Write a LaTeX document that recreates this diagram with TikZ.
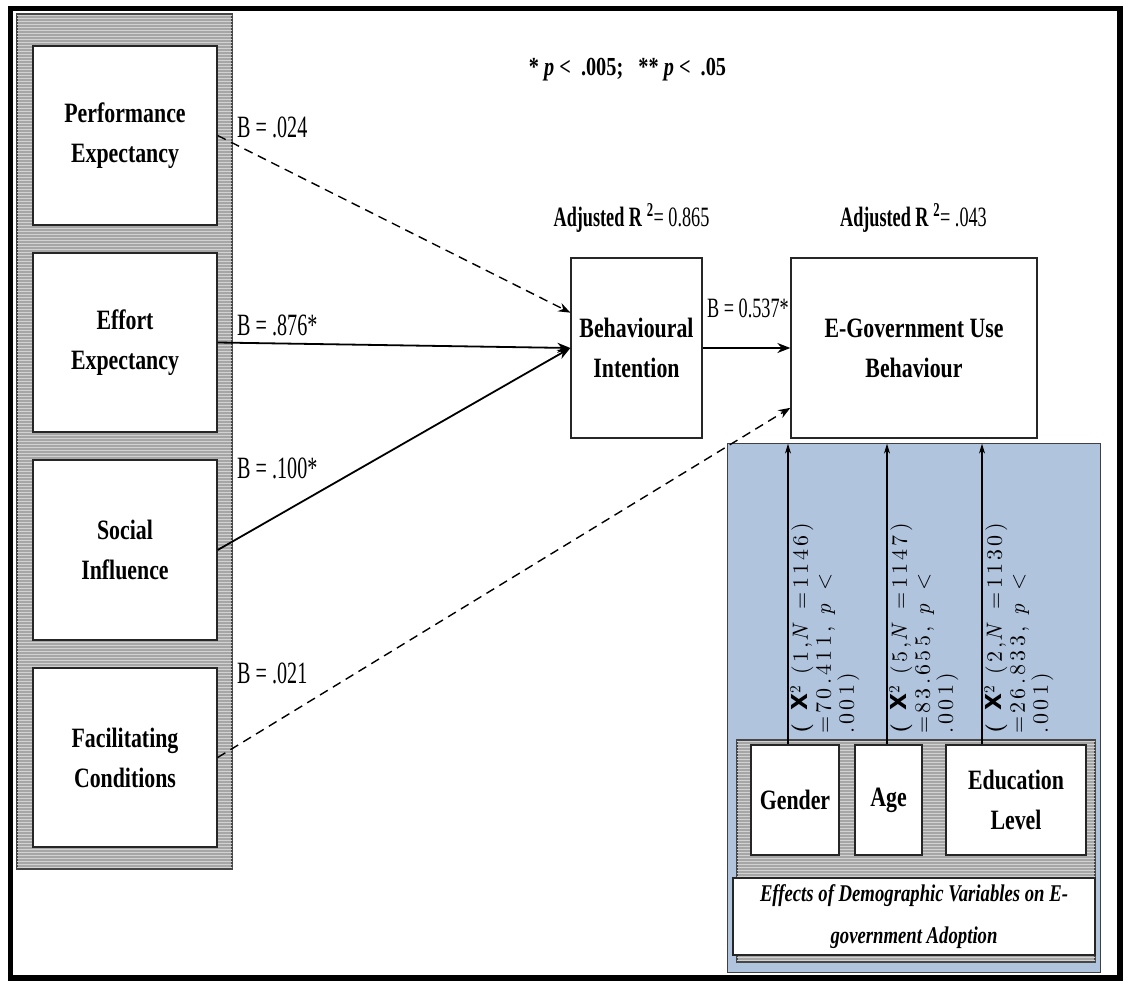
\documentclass[tikz,border=0pt]{standalone}
\usepackage{fontspec}
\usetikzlibrary{arrows.meta,calc,patterns}

\newfontfamily\boxfont{Liberation Serif}[FakeStretch=0.78]
\newfontfamily\lblfont{Liberation Serif}[FakeStretch=0.65]
\newfontfamily\statfont{lmroman10}[Extension=.otf, UprightFont=*-regular, BoldFont=*-bold, ItalicFont=*-italic, LetterSpace=15]
\newfontfamily\xfont{DejaVu Sans}

\definecolor{panelblue}{RGB}{176,196,222}
\definecolor{panelgray}{RGB}{166,166,166}
\definecolor{edgegray}{RGB}{70,70,70}

\begin{document}
\begin{tikzpicture}[x=1pt,y=-1pt,
  graypanel/.style={fill=panelgray, draw=edgegray, line width=1.2pt,
    postaction={pattern=horizontal lines, pattern color=gray!35}},
  vbox/.style={draw=black!85, line width=1.3pt, fill=white, align=center, inner sep=0pt,
    font=\boxfont\bfseries\fontsize{28}{40}\selectfont},
  lbl/.style={anchor=west, inner sep=0pt, font=\lblfont\fontsize{31}{33}\selectfont},
  rsq/.style={inner sep=0pt, font=\lblfont\fontsize{28}{30}\selectfont},
  stat/.style={rotate=90, anchor=north west, align=left, inner sep=1pt,
    font=\statfont\fontsize{22}{23}\selectfont},
  solidarrow/.style={line width=1.8pt, -{Stealth[length=13pt,width=10pt]}},
  dasharrow/.style={line width=1.4pt, dash pattern=on 9pt off 6pt, -{Stealth[length=12pt,width=9pt]}},
  uparrow/.style={line width=1.1pt, -{Stealth[length=10pt,width=6pt]}, shorten >=5pt}
]
\useasboundingbox (0,0) rectangle (1127,982);
\fill[white] (0,0) rectangle (1127,982);

% panels
\path[graypanel] (17,14) rectangle (232,869);
\path[fill=panelblue, draw=black!75, line width=1pt] (727,443) rectangle (1100,972);
\path[graypanel] (737,740) rectangle (1095,962);

% predictor boxes
\node[vbox, minimum width=184pt, minimum height=179pt] (pe) at (125,135.5) {Performance\\Expectancy};
\node[vbox, minimum width=184pt, minimum height=179pt] (ee) at (125,342.5) {Effort\\Expectancy};
\node[vbox, minimum width=184pt, minimum height=180pt] (si) at (125,550) {Social\\Influence};
\node[vbox, minimum width=184pt, minimum height=179pt] (fc) at (125,757.5) {Facilitating\\Conditions};

% outcome boxes
\node[vbox, minimum width=131pt, minimum height=180pt] (bi) at (636.5,348) {Behavioural\\Intention};
\node[vbox, minimum width=246pt, minimum height=180pt] (eg) at (914,348) {E-Government Use\\Behaviour};

% demographic boxes
\node[vbox, minimum width=88pt, minimum height=110pt] (gender) at (795,800) {Gender};
\node[vbox, minimum width=67pt, minimum height=110pt] (age) at (888.5,800) {Age};
\node[vbox, minimum width=140pt, minimum height=110pt] (edu) at (1016,800) {Education\\Level};
\node[vbox, minimum width=362pt, minimum height=77pt,
  font=\boxfont\bfseries\itshape\fontsize{24}{42}\selectfont] (eff) at (914,916.5)
  {Effects of Demographic Variables on E-\\government Adoption};

% paths into the intention and use boxes
\draw[dasharrow] (pe.east) -- ($(bi.north west)!0.305!(bi.south west)$);
\draw[solidarrow] (ee.east) -- (bi.west);
\draw[solidarrow] (si.east) -- (bi.west);
\draw[dasharrow] (fc.east) -- ($(eg.north west)!0.83!(eg.south west)$);
\draw[solidarrow] (bi.east) -- (eg.west);

% demographic effects
\coordinate (g1) at ([xshift=-7pt]gender.north);
\coordinate (a1) at ([xshift=-1.5pt]age.north);
\coordinate (e1) at ([xshift=-34pt]edu.north);
\draw[uparrow] (g1) -- (g1 |- eg.south);
\draw[uparrow] (a1) -- (a1 |- eg.south);
\draw[uparrow] (e1) -- (e1 |- eg.south);

\node[stat] (sg) at (789,735) {\textbf{(} {\xfont\bfseries X}\textsuperscript{2} (1,\textit{N} =1146)\\=70.411, \textit{p} <\\.001)};
\node[stat] (sa) at (888,735) {\textbf{(} {\xfont\bfseries X}\textsuperscript{2} (5,\textit{N} =1147)\\=83.655, \textit{p} <\\.001)};
\node[stat] (se) at (983,735) {\textbf{(} {\xfont\bfseries X}\textsuperscript{2} (2,\textit{N} =1130)\\=26.833, \textit{p} <\\.001)};

% coefficients
\node[lbl] (b1) at (237,127) {B = .024};
\node[lbl] (b2) at (237,325) {B = .876*};
\node[lbl] (b3) at (237,468) {B = .100*};
\node[lbl] (b4) at (237,673) {B = .021};
\node[lbl, font=\lblfont\fontsize{28}{30}\selectfont] (b5) at (707,308) {B = 0.537*};

\node[rsq] (r1) at (631.5,218) {{\bfseries Adjusted R\,\textsuperscript{2}}= 0.865};
\node[rsq] (r2) at (913.5,218) {{\bfseries Adjusted R\,\textsuperscript{2}}= .043};

\node[inner sep=0pt, font=\boxfont\bfseries\fontsize{26}{28}\selectfont] (note) at (627.5,70)
  {* \textit{p} < \ .005; \ \ ** \textit{p} < \ .05};

% frame
\draw[line width=5.5pt] (10.5,8.5) rectangle (1120,978);
\end{tikzpicture}
\end{document}
